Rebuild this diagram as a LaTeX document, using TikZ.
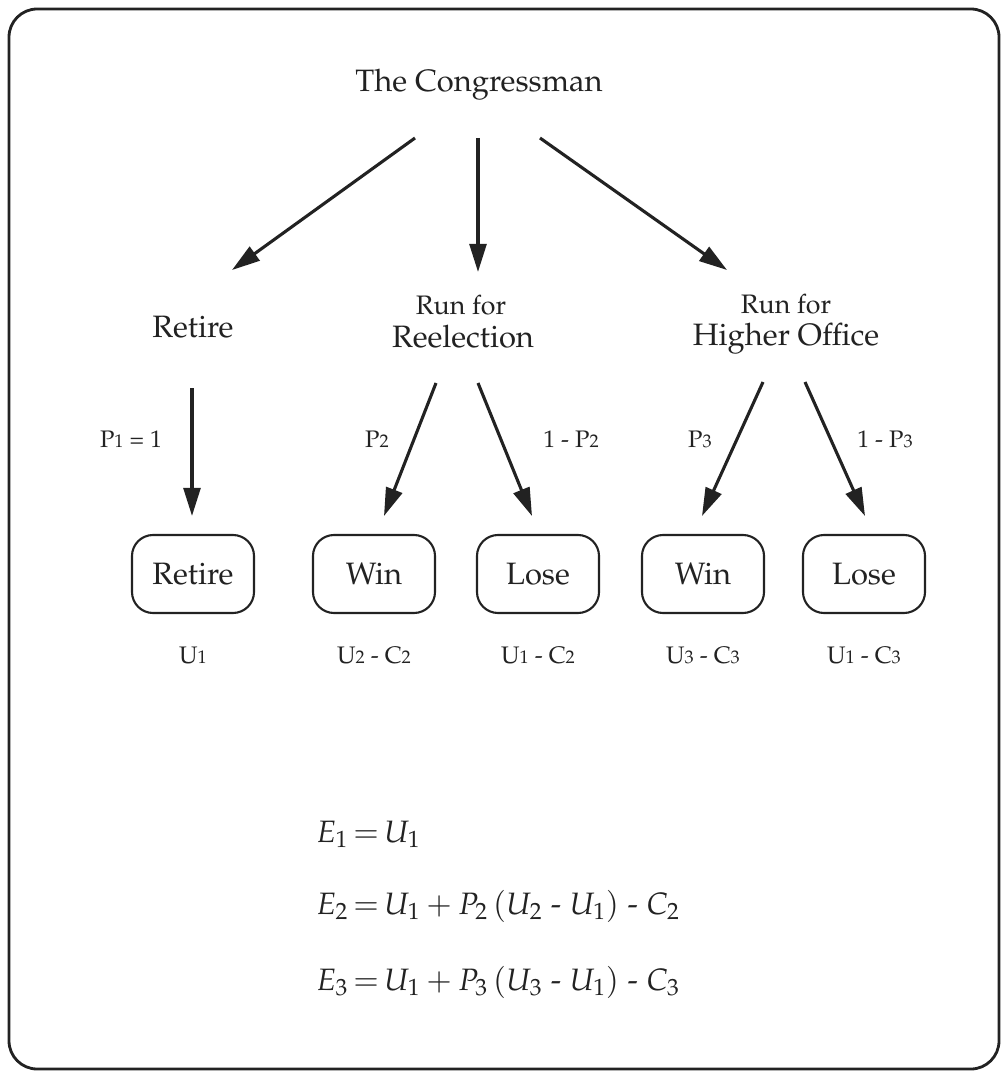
\documentclass[tikz,border=0pt]{standalone}
\usepackage[T1]{fontenc}
\usepackage{mathpazo}
\usetikzlibrary{arrows.meta}
\definecolor{ink}{HTML}{222222}
\newcommand\ix[1]{{\fontsize{13}{13}\selectfont #1}}
\begin{document}
\begin{tikzpicture}[x=0.025cm,y=-0.025cm,
  every node/.style={text=ink, inner sep=0pt},
  arr/.style={line width=2.2pt, draw=ink, -{Triangle[length=20pt,width=12pt]}},
  box/.style={draw=ink, line width=1.5pt, rounded corners=15pt, minimum width=3.05cm, minimum height=1.95cm, font=\fontsize{22}{26}\selectfont},
  big/.style={font=\fontsize{22}{26}\selectfont, anchor=base},
  small/.style={font=\fontsize{19}{22}\selectfont, anchor=base},
  lab/.style={font=\fontsize{17}{20}\selectfont, anchor=base}]
\useasboundingbox (0,0) rectangle (1004,1076);
\draw[ink, line width=2pt, rounded corners=20pt] (9,9) rectangle (999,1069);

\node[big] (top) at (479,92) {The Congressman};

\node[big] (retire) at (193,337) {Retire};
\node[small] (run1) at (461,314) {Run for};
\node[big] (reel) at (463,347) {Reelection};
\node[small] (run2) at (786,313) {Run for};
\node[big] (higher) at (786,345) {Higher Office};

\coordinate (t1) at (415,138);
\coordinate (t2) at (478,138);
\coordinate (t3) at (540,138);
\coordinate (e1) at (232,270);
\coordinate (e2) at (478,272);
\coordinate (e3) at (727,270);
\draw[arr] (t1) -- (e1);
\draw[arr] (t2) -- (e2);
\draw[arr] (t3) -- (e3);

\node[box] (b1) at (193,574) {Retire};
\node[box] (b2) at (374,574) {Win};
\node[box] (b3) at (538,574) {Lose};
\node[box] (b4) at (703,574) {Win};
\node[box] (b5) at (864,574) {Lose};

\coordinate (r0) at (192,388);
\coordinate (a0) at (436,383);
\coordinate (c0) at (478,383);
\coordinate (h0) at (763,382);
\coordinate (k0) at (805,382);
\draw[arr] (r0) -- (192,516);
\draw[arr] (a0) -- (384,516);
\draw[arr] (c0) -- (532,516);
\draw[arr] (h0) -- (702,516);
\draw[arr] (k0) -- (865,516);

\node[lab] (l1) at (131,447) {P\ix{1} = 1};
\node[lab] (l2) at (377,447) {P\ix{2}};
\node[lab] (l3) at (571,447) {1 - P\ix{2}};
\node[lab] (l4) at (700,447) {P\ix{3}};
\node[lab] (l5) at (885,447) {1 - P\ix{3}};

\node[lab] (u1) at (193,663) {U\ix{1}};
\node[lab] (u2) at (374,663) {U\ix{2} - C\ix{2}};
\node[lab] (u3) at (538,663) {U\ix{1} - C\ix{2}};
\node[lab] (u4) at (703,663) {U\ix{3} - C\ix{3}};
\node[lab] (u5) at (864,663) {U\ix{1} - C\ix{3}};

\node[big, anchor=base west] (eq1) at (316,842) {$E_1 \mathrel{\mkern-2mu=\mkern-2mu} U_1$};
\node[big, anchor=base west] (eq2) at (316,914) {$E_2 \mathrel{\mkern-2mu=\mkern-2mu} U_1 + P_2\,(U_2\;\mbox{-}\;U_1)\;\mbox{-}\;C_2$};
\node[big, anchor=base west] (eq3) at (316,990) {$E_3 \mathrel{\mkern-2mu=\mkern-2mu} U_1 + P_3\,(U_3\;\mbox{-}\;U_1)\;\mbox{-}\;C_3$};
\end{tikzpicture}
\end{document}
